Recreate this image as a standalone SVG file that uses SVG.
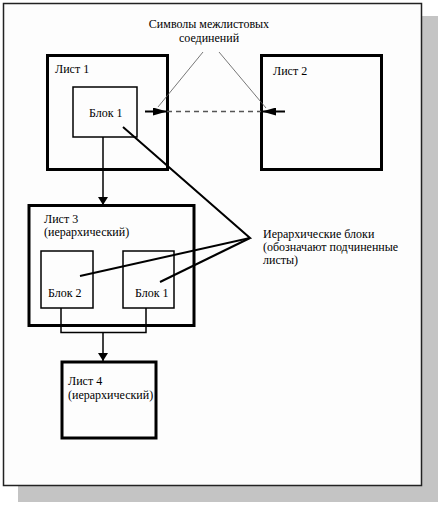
<svg xmlns="http://www.w3.org/2000/svg" width="440" height="505" viewBox="0 0 440 505">
<style>
text{font-size:12px;fill:#000}
.sheet{fill:none;stroke:#000;stroke-width:3}
.blk{fill:none;stroke:#000;stroke-width:1.5}
.wire{fill:none;stroke:#000;stroke-width:1.5}
.thin{fill:none;stroke:#555;stroke-width:0.8}
.call{fill:none;stroke:#000;stroke-width:2}
</style>
<defs>
<marker id="ah" viewBox="0 0 10 10" refX="10" refY="5" markerWidth="8" markerHeight="10" markerUnits="userSpaceOnUse" orient="auto" preserveAspectRatio="none">
<path d="M0,0 L10,5 L0,10 Z" fill="#000"/>
</marker>
<marker id="ahs" viewBox="0 0 10 10" refX="10" refY="5" markerWidth="14" markerHeight="8" markerUnits="userSpaceOnUse" orient="auto" preserveAspectRatio="none">
<path d="M0,0 L10,5 L0,10 Z" fill="#000"/>
</marker>
</defs>
<rect x="0" y="0" width="440" height="505" fill="#fff"/>
<rect x="18" y="16" width="420" height="486" fill="#c4c4c4"/>
<rect x="3.5" y="3.5" width="418" height="482" fill="#fdfdfd" stroke="#222" stroke-width="1.5"/>

<g font-family="'Liberation Serif', 'DejaVu Serif', serif">
<g id="label-connectors">
<text x="209" y="28" text-anchor="middle">Символы межлистовых</text>
<text x="209" y="42" text-anchor="middle">соединений</text>
</g>
<g id="sheet1">
<rect class="sheet" x="47.5" y="55.5" width="120" height="114"/>
<text x="55" y="73">Лист 1</text>
</g>
<g id="block1">
<rect class="blk" x="73" y="87" width="64" height="50"/>
<text x="89" y="117">Блок 1</text>
</g>
<g id="sheet2">
<rect class="sheet" x="261.5" y="55.5" width="120" height="114"/>
<text x="273" y="75">Лист 2</text>
</g>
<g id="sheet3">
<rect class="sheet" x="29" y="205.5" width="165" height="120"/>
<text x="44" y="223">Лист 3</text>
<text x="44" y="236">(иерархический)</text>
</g>
<g id="sheet3-block2">
<rect class="blk" x="41" y="251" width="52" height="57"/>
<text x="48" y="297">Блок 2</text>
</g>
<g id="sheet3-block1">
<rect class="blk" x="123" y="251" width="51" height="57"/>
<text x="135" y="297">Блок 1</text>
</g>
<g id="sheet4">
<rect class="sheet" x="62" y="362" width="94" height="76"/>
<text x="68" y="385">Лист 4</text>
<text x="68" y="399">(иерархический)</text>
</g>
<g id="label-blocks">
<text x="263" y="238">Иерархические блоки</text>
<text x="263" y="251">(обозначают подчиненные</text>
<text x="263" y="264">листы)</text>
</g>
</g>

<g id="connectors">
<line class="wire" x1="103" y1="137" x2="103" y2="205" marker-end="url(#ah)"/>
<polyline class="wire" points="61,308 61,332.5 146,332.5 146,308"/>
<line class="wire" x1="103" y1="332" x2="103" y2="361" marker-end="url(#ah)"/>
<line x1="167" y1="111.5" x2="261" y2="111.5" stroke="#555" stroke-width="1.5" stroke-dasharray="5,4"/>
<line x1="145" y1="111.5" x2="167" y2="111.5" stroke="#000" stroke-width="2" marker-end="url(#ahs)"/>
<line x1="285" y1="111.5" x2="262" y2="111.5" stroke="#000" stroke-width="2" marker-end="url(#ahs)"/>
<line class="thin" x1="203" y1="52" x2="158" y2="107"/>
<line class="thin" x1="219" y1="52" x2="266" y2="108"/>
<polyline class="call" points="123,127 250,238 80,276"/>
<line class="call" x1="250" y1="238" x2="160" y2="282"/>
</g>
</svg>
